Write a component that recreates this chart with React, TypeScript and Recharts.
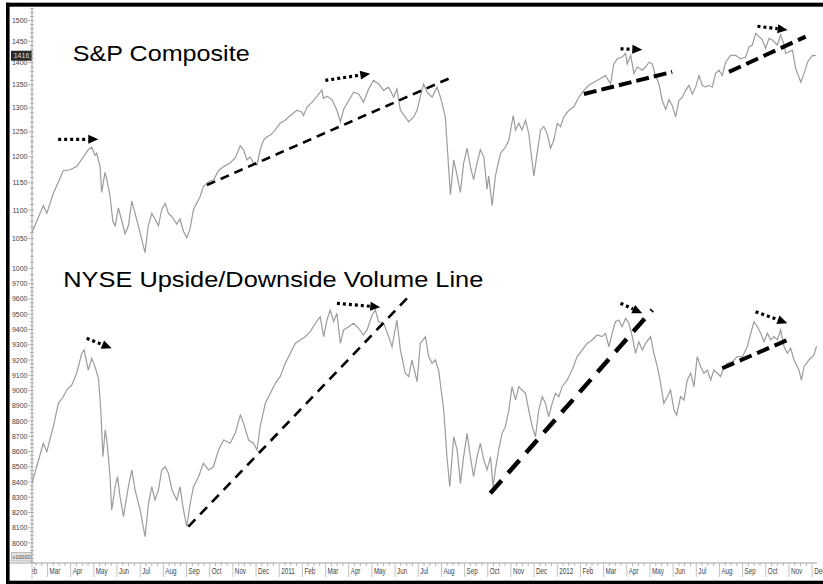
import { LineChart, Line, XAxis, YAxis, ReferenceLine } from "recharts";

// x = months since 1 Feb 2010 (Mar 2010 = 1, Jan 2011 = 11, Jan 2012 = 23)
const spxMonths = [
  0.33, 0.82, 0.97, 1.25, 1.68, 1.97, 2.26, 2.55, 2.76, 2.91, 3.05, 3.12, 3.27, 3.34, 3.48, 3.56, 3.7, 3.82, 3.92, 4.06,
  4.21, 4.35, 4.49, 4.64, 4.78, 4.92, 5.14, 5.21, 5.35, 5.5, 5.64, 5.79, 5.93, 6.08, 6.22, 6.37, 6.58, 6.72, 6.87, 7.01,
  7.15, 7.3, 7.44, 7.59, 7.73, 7.95, 8.17, 8.38, 8.6, 8.88, 9.1, 9.32, 9.46, 9.61, 9.75, 9.89, 10.04, 10.18, 10.32, 10.47,
  10.61, 10.83, 11.04, 11.26, 11.48, 11.77, 11.98, 12.05, 12.2, 12.41, 12.63, 12.84, 12.91, 13.06, 13.28, 13.49, 13.64,
  13.78, 14.0, 14.21, 14.43, 14.64, 14.86, 15.07, 15.29, 15.51, 15.72, 15.94, 16.08, 16.23, 16.44, 16.59, 16.8, 16.95,
  17.09, 17.23, 17.38, 17.6, 17.81, 17.96, 18.17, 18.32, 18.39, 18.53, 18.68, 18.82, 18.96, 19.11, 19.25, 19.39, 19.54,
  19.68, 19.83, 19.97, 20.04, 20.19, 20.33, 20.55, 20.76, 20.91, 21.1, 21.2, 21.34, 21.48, 21.63, 21.77, 21.99, 22.13,
  22.28, 22.42, 22.56, 22.71, 22.85, 23.0, 23.14, 23.28, 23.5, 23.71, 23.93, 24.15, 24.36, 24.58, 24.87, 25.08, 25.3,
  25.44, 25.59, 25.8, 25.95, 26.02, 26.17, 26.31, 26.45, 26.67, 26.81, 26.96, 27.1, 27.24, 27.39, 27.53, 27.68, 27.82,
  27.97, 28.11, 28.25, 28.4, 28.54, 28.68, 28.83, 28.97, 29.12, 29.26, 29.4, 29.55, 29.69, 29.83, 29.98, 30.12, 30.27,
  30.48, 30.7, 30.91, 31.13, 31.28, 31.42, 31.56, 31.71, 31.85, 31.99, 32.14, 32.28, 32.5, 32.64, 32.79, 32.86, 33.0,
  33.15, 33.29, 33.51, 33.65, 33.8, 34.01, 34.16,
];
const spxValues = [
  1060, 1108, 1094, 1130, 1173, 1175, 1181, 1200, 1214, 1219, 1203, 1207, 1181, 1132, 1170, 1156, 1125, 1080, 1072, 1104,
  1080, 1058, 1072, 1116, 1094, 1072, 1037, 1026, 1072, 1094, 1084, 1072, 1101, 1112, 1094, 1088, 1075, 1084, 1062, 1051,
  1066, 1101, 1112, 1125, 1143, 1152, 1156, 1173, 1181, 1188, 1198, 1222, 1214, 1194, 1200, 1188, 1184, 1214, 1233, 1240,
  1243, 1254, 1268, 1274, 1284, 1295, 1291, 1284, 1302, 1312, 1325, 1339, 1320, 1325, 1318, 1295, 1271,
  1297, 1316, 1334, 1330, 1312, 1341, 1360, 1352, 1338, 1345, 1323, 1341, 1295, 1281, 1271, 1281, 1295,
  1325, 1352, 1334, 1323, 1345, 1323, 1281, 1173, 1128, 1194, 1163, 1132, 1188, 1217, 1181, 1156, 1188,
  1214, 1200, 1138, 1163, 1108, 1163, 1207, 1219, 1233, 1284, 1254, 1268, 1254, 1274, 1247, 1163, 1207,
  1254, 1261, 1247, 1217, 1233, 1268, 1261, 1281, 1295, 1302, 1323, 1338, 1349, 1356, 1364, 1371, 1352,
  1397, 1409, 1413, 1421, 1397, 1417, 1375, 1390, 1383, 1390, 1401, 1397, 1371, 1352, 1316, 1297, 1318,
  1304, 1281, 1316, 1323, 1338, 1349, 1330, 1345, 1371, 1349, 1345, 1349, 1345, 1375, 1383, 1371, 1401,
  1417, 1417, 1409, 1413, 1437, 1441, 1469, 1461, 1453, 1433, 1457, 1453, 1441, 1465, 1441, 1421, 1425,
  1429, 1387, 1356, 1375, 1401, 1417, 1416,
];

// NYSE upside/downside volume line, in units of 10,000
const volMonths = [
  0.33, 0.53, 0.82, 0.97, 1.25, 1.47, 1.68, 1.83, 2.05, 2.26, 2.48, 2.58, 2.76, 2.91, 3.05, 3.2, 3.3, 3.39, 3.49, 3.56,
  3.7, 3.77, 3.92, 4.02, 4.13, 4.28, 4.49, 4.64, 4.78, 5.0, 5.21, 5.36, 5.5, 5.64, 5.79, 5.93, 6.08, 6.22, 6.37, 6.58,
  6.72, 6.87, 7.01, 7.16, 7.3, 7.52, 7.73, 7.95, 8.16, 8.38, 8.6, 8.88, 9.1, 9.32, 9.46, 9.68, 9.89, 10.04, 10.18, 10.4,
  10.61, 10.83, 11.04, 11.26, 11.48, 11.69, 11.91, 12.12, 12.34, 12.56, 12.77, 12.92, 13.06, 13.2, 13.35, 13.49, 13.64,
  13.78, 14.0, 14.21, 14.43, 14.64, 14.79, 15.01, 15.15, 15.29, 15.51, 15.72, 15.87, 16.08, 16.23, 16.44, 16.59, 16.73,
  16.95, 17.09, 17.31, 17.45, 17.6, 17.74, 17.88, 18.1, 18.24, 18.36, 18.53, 18.68, 18.82, 18.96, 19.11, 19.25, 19.39,
  19.54, 19.68, 19.83, 19.97, 20.12, 20.23, 20.33, 20.47, 20.62, 20.76, 20.91, 21.05, 21.2, 21.34, 21.48, 21.63, 21.77,
  21.92, 22.06, 22.2, 22.35, 22.49, 22.63, 22.78, 22.92, 23.07, 23.21, 23.43, 23.64, 23.86, 24.08, 24.29, 24.51, 24.72,
  24.94, 25.08, 25.23, 25.37, 25.51, 25.66, 25.8, 25.95, 26.09, 26.24, 26.38, 26.52, 26.67, 26.81, 27.03, 27.17, 27.32,
  27.46, 27.6, 27.75, 27.89, 28.04, 28.15, 28.32, 28.47, 28.61, 28.76, 28.9, 29.04, 29.19, 29.33, 29.48, 29.62, 29.76,
  29.91, 30.05, 30.19, 30.34, 30.56, 30.77, 30.99, 31.2, 31.35, 31.49, 31.64, 31.78, 31.92, 32.07, 32.21, 32.35, 32.5,
  32.64, 32.79, 32.93, 33.07, 33.22, 33.43, 33.54, 33.65, 33.86, 34.08, 34.19,
];
const volValues = [
  8391, 8500, 8654, 8599, 8763, 8916, 8959, 9003, 9036, 9113, 9244, 9266, 9134, 9211, 9156, 9080, 8872, 8566, 8741, 8675,
  8435, 8216, 8369, 8435, 8304, 8173, 8369, 8479, 8348, 8216, 8041, 8260, 8369, 8282, 8348, 8479, 8500, 8457, 8348, 8282,
  8369, 8216, 8107, 8260, 8369, 8435, 8523, 8479, 8500, 8610, 8675, 8654, 8719, 8839, 8785, 8675, 8654, 8610, 8763, 8916,
  8981, 9047, 9091, 9178, 9244, 9309, 9331, 9353, 9386, 9441, 9484, 9353, 9462, 9528, 9451, 9506, 9309,
  9397, 9418, 9441, 9408, 9364, 9397, 9495, 9528, 9451, 9441, 9353, 9287, 9462, 9266, 9113, 9091, 9200,
  9058, 9309, 9353, 9222, 9178, 9200, 9134, 8872, 8566, 8369, 8697, 8610, 8391, 8566, 8719, 8566, 8435,
  8566, 8654, 8544, 8479, 8566, 8369, 8479, 8610, 8719, 8763, 8872, 9025, 8938, 9025, 9003, 8981, 8872,
  8763, 8697, 8872, 8959, 8916, 8828, 8916, 8981, 8959, 9025, 9069, 9134, 9222, 9266, 9309, 9331, 9364,
  9353, 9375, 9287, 9375, 9451, 9462, 9418, 9473, 9441, 9353, 9244, 9320, 9266, 9309, 9353, 9244, 9156,
  9047, 8916, 8959, 9003, 8872, 8839, 8959, 8938, 9069, 9113, 9025, 9222, 9156, 9113, 9134, 9069, 9134,
  9113, 9091, 9156, 9178, 9189, 9222, 9222, 9287, 9375, 9451, 9418, 9375, 9320, 9375, 9331, 9353, 9331,
  9397, 9287, 9244, 9277, 9200, 9134, 9069, 9156, 9200, 9233, 9290,
];

const monthLabels = [
  "Feb", "Mar", "Apr", "May", "Jun", "Jul", "Aug", "Sep", "Oct", "Nov", "Dec",
  "2011", "Feb", "Mar", "Apr", "May", "Jun", "Jul", "Aug", "Sep", "Oct", "Nov", "Dec",
  "2012", "Feb", "Mar", "Apr", "May", "Jun", "Jul", "Aug", "Sep", "Oct", "Nov", "Dec",
];

// hand-drawn annotations: [x1, y1, x2, y2] in data units
const spxTrendLines = [
  [7.88, 1146, 18.32, 1364],
  [24.15, 1330, 27.96, 1379],
  [30.41, 1379, 33.72, 1461],
];
const spxArrows = [
  [1.46, 1235, 3.19, 1235],
  [12.99, 1360, 14.93, 1375],
  [25.73, 1432, 26.67, 1430],
  [31.64, 1486, 32.94, 1477],
];
const volTrendLines = [
  [7.08, 8107, 16.52, 9605],
  [20.11, 8326, 27.1, 9528],
  [30.12, 9146, 32.93, 9331],
];
const volArrows = [
  [2.69, 9342, 3.77, 9277],
  [13.49, 9572, 15.36, 9546],
  [25.73, 9572, 26.67, 9506],
  [31.56, 9517, 32.93, 9441],
];

const spxData = spxMonths.map((m, i) => ({ m, v: spxValues[i] }));
const volData = volMonths.map((m, i) => ({ m, v: volValues[i] }));
const lastSpx = spxValues[spxValues.length - 1];

const W = 823;
const PLOT_LEFT = 32;
const X_DOMAIN: [number, number] = [0.331, 34.21];
const SPX_DOMAIN: [number, number] = [984.2, 1531];
const VOL_DOMAIN: [number, number] = [7868.9, 9737.7];

const spxTicks: number[] = [];
for (let v = 990; v <= 1530; v += 10) spxTicks.push(v);
const volTicks: number[] = [];
for (let v = 7875; v <= 9725; v += 25) volTicks.push(v);
const xTicks: number[] = [];
for (let i = 0; i < monthLabels.length; i++) {
  xTicks.push(i);
  [0.25, 0.5, 0.75].forEach((f) => i + f <= X_DOMAIN[1] && xTicks.push(i + f));
}

const trendStyle = [
  { w: 2.6, dash: "9 6" },
  { w: 4, dash: "13 5" },
  { w: 4, dash: "13 6" },
];
const volTrendStyle = [
  { w: 2.6, dash: "10 7" },
  { w: 4.5, dash: "17 10" },
  { w: 4, dash: "13 6" },
];

const TICK_FONT = "'Liberation Sans', Arial, sans-serif";

function ValueTick(props: any) {
  const { x, y, payload, major, minLabel } = props;
  const v = payload.value as number;
  const isMajor = v % major === 0 && v >= minLabel;
  return (
    <g>
      <line x1={isMajor ? x - 4 : x - 2} x2={x + 2} y1={y} y2={y} stroke="#9a9a9a" strokeWidth={0.7} />
      {isMajor && (
        <text x={x - 4.5} y={y + 2.5} textAnchor="end" fontSize={7} fill="#444" fontFamily={TICK_FONT}>
          {v}
        </text>
      )}
    </g>
  );
}

function MonthTick(props: any) {
  const { x, y, payload } = props;
  const v = payload.value as number;
  const major = Math.abs(v - Math.round(v)) < 1e-6;
  if (!major) {
    if (x < PLOT_LEFT) return null;
    return <line x1={x} x2={x} y1={y} y2={y + 3} stroke="#9a9a9a" strokeWidth={0.7} />;
  }
  return (
    <g>
      {x >= PLOT_LEFT && <line x1={x} x2={x} y1={y} y2={y + 14} stroke="#b4b4b4" strokeWidth={0.8} />}
      <svg x={PLOT_LEFT} y={y} width={W - PLOT_LEFT} height={16} overflow="hidden">
        <text
          transform={`translate(${x - PLOT_LEFT + 2},11) scale(0.66,1)`}
          fontSize={9.5}
          fill="#444"
          fontFamily={TICK_FONT}
        >
          {monthLabels[Math.round(v)]}
        </text>
      </svg>
    </g>
  );
}

function arrowShape(p: any) {
  const { x1, y1, x2, y2 } = p;
  const dx = x2 - x1;
  const dy = y2 - y1;
  const len = Math.hypot(dx, dy) || 1;
  const ux = dx / len;
  const uy = dy / len;
  const head = 10;
  const half = 4.5;
  const bx = x2 - ux * head;
  const by = y2 - uy * head;
  return (
    <g>
      <line x1={x1} y1={y1} x2={bx} y2={by} stroke="#000" strokeWidth={3.2} strokeDasharray="3 3" />
      <polygon
        points={`${x2},${y2} ${bx - uy * half},${by + ux * half} ${bx + uy * half},${by - ux * half}`}
        fill="#000"
      />
    </g>
  );
}

function LastValueTag(props: any) {
  const { viewBox } = props;
  if (!viewBox) return null;
  const x = viewBox.x;
  const y = viewBox.y;
  return (
    <g>
      <rect x={x - 21} y={y - 5} width={21} height={10} fill="#2b2b2b" />
      <text x={x - 10.5} y={y + 2.5} textAnchor="middle" fontSize={7} fill="#ddd" fontFamily={TICK_FONT}>
        {lastSpx}
      </text>
    </g>
  );
}

export default function App() {
  return (
    <div style={{ position: "absolute", left: 0, top: 0, width: W, height: 584, background: "#fff", overflow: "hidden" }}>
      <div style={{ position: "absolute", left: 0, top: 0 }}>
        <LineChart width={W} height={278} data={spxData} margin={{ top: 8, right: 6, bottom: 0, left: 0 }}>
          <XAxis dataKey="m" type="number" domain={X_DOMAIN} allowDataOverflow hide />
          <YAxis
            type="number"
            scale="log"
            domain={SPX_DOMAIN}
            allowDataOverflow
            width={32}
            ticks={spxTicks}
            interval={0}
            tickSize={0}
            tickMargin={0}
            tickLine={false}
            axisLine={{ stroke: "#a0a0a0" }}
            tick={<ValueTick major={50} minLabel={1000} />}
          />
          <Line
            dataKey="v"
            type="linear"
            stroke="#9c9c9c"
            strokeWidth={1.2}
            dot={false}
            isAnimationActive={false}
          />
          <ReferenceLine y={lastSpx} stroke="none" ifOverflow="visible" label={<LastValueTag />} />
          {spxTrendLines.map((s, i) => (
            <ReferenceLine
              key={`st${i}`}
              segment={[{ x: s[0], y: s[1] }, { x: s[2], y: s[3] }]}
              ifOverflow="visible"
              stroke="#000"
              strokeWidth={trendStyle[i].w}
              strokeDasharray={trendStyle[i].dash}
            />
          ))}
          {spxArrows.map((s, i) => (
            <ReferenceLine
              key={`sa${i}`}
              segment={[{ x: s[0], y: s[1] }, { x: s[2], y: s[3] }]}
              ifOverflow="visible"
              shape={arrowShape}
            />
          ))}
        </LineChart>
      </div>

      <div style={{ position: "absolute", left: 0, top: 278 }}>
        <LineChart width={W} height={302} data={volData} margin={{ top: 0, right: 6, bottom: 0, left: 0 }}>
          <XAxis
            dataKey="m"
            type="number"
            domain={X_DOMAIN}
            allowDataOverflow
            ticks={xTicks}
            interval={0}
            height={17}
            tickSize={0}
            tickMargin={0}
            tickLine={false}
            axisLine={{ stroke: "#a0a0a0" }}
            tick={<MonthTick />}
          />
          <YAxis
            type="number"
            domain={VOL_DOMAIN}
            allowDataOverflow
            width={32}
            ticks={volTicks}
            interval={0}
            tickSize={0}
            tickMargin={0}
            tickLine={false}
            axisLine={{ stroke: "#a0a0a0" }}
            tick={<ValueTick major={100} minLabel={8000} />}
          />
          <Line
            dataKey="v"
            type="linear"
            stroke="#9c9c9c"
            strokeWidth={1.2}
            dot={false}
            isAnimationActive={false}
          />
          {volTrendLines.map((s, i) => (
            <ReferenceLine
              key={`vt${i}`}
              segment={[{ x: s[0], y: s[1] }, { x: s[2], y: s[3] }]}
              ifOverflow="visible"
              stroke="#000"
              strokeWidth={volTrendStyle[i].w}
              strokeDasharray={volTrendStyle[i].dash}
            />
          ))}
          {volArrows.map((s, i) => (
            <ReferenceLine
              key={`va${i}`}
              segment={[{ x: s[0], y: s[1] }, { x: s[2], y: s[3] }]}
              ifOverflow="visible"
              shape={arrowShape}
            />
          ))}
        </LineChart>
      </div>

      <svg
        width={W}
        height={584}
        style={{ position: "absolute", left: 0, top: 0, pointerEvents: "none" }}
      >
        <text
          x={72.7}
          y={60.7}
          fontSize={22}
          fontFamily="'Liberation Sans', Arial, sans-serif"
          textLength={177}
          lengthAdjust="spacingAndGlyphs"
          fill="#000"
        >
          S&amp;P Composite
        </text>
        <text
          x={63.3}
          y={287}
          fontSize={22}
          fontFamily="'Liberation Sans', Arial, sans-serif"
          textLength={420}
          lengthAdjust="spacingAndGlyphs"
          fill="#000"
        >
          NYSE Upside/Downside Volume Line
        </text>
        <rect x={11.5} y={552.5} width={20} height={8.5} fill="#e4e4e4" stroke="#9a9a9a" strokeWidth={0.6} />
        <text x={21.5} y={559.2} textAnchor="middle" fontSize={5.5} fill="#444" fontFamily={TICK_FONT}>
          x10000
        </text>
        <line x1={9.5} x2={PLOT_LEFT} y1={563} y2={563} stroke="#a0a0a0" strokeWidth={1} />
        <line x1={PLOT_LEFT} x2={PLOT_LEFT} y1={563} y2={579} stroke="#b4b4b4" strokeWidth={0.8} />
        <rect x={6} y={2.7} width={W} height={4} fill="#000" />
        <rect x={6} y={2.7} width={3.6} height={581} fill="#000" />
        <rect x={6} y={580.7} width={W} height={3.4} fill="#000" />
      </svg>
    </div>
  );
}
